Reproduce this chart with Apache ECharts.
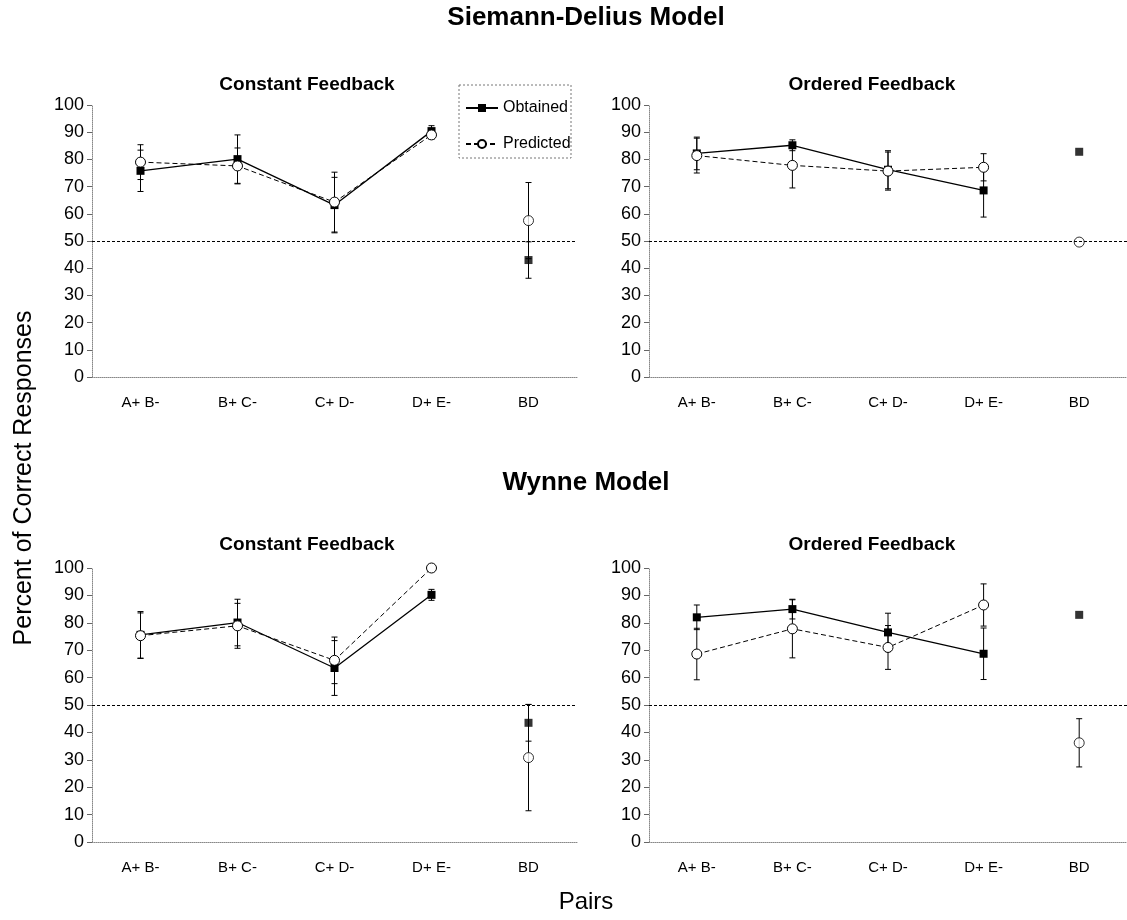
<!DOCTYPE html>
<html>
<head>
<meta charset="utf-8">
<script src="https://cdn.jsdelivr.net/npm/echarts@6/dist/echarts.min.js"></script>
<style>
  html, body { margin: 0; padding: 0; background: #fff; }
  #chart { width: 1127px; height: 920px; }
</style>
</head>
<body>
<div id="chart"></div>
<script>
// pairs on the x axis
const categories = ['A+ B-', 'B+ C-', 'C+ D-', 'D+ E-', 'BD'];

// Siemann-Delius model, constant feedback
const sdConstObtained = [75.8, 80.1, 63.2, 90.4, 43.0];
const sdConstObtainedErr = [7.6, 8.9, 10.2, 2.0, 6.7];
const sdConstPredicted = [79.0, 77.6, 64.3, 89.0, 57.5];
const sdConstPredictedErr = [6.4, 6.6, 11.0, 1.5, 14.0];

// Siemann-Delius model, ordered feedback
const sdOrdObtained = [82.2, 85.2, 76.2, 68.6, 82.8];
const sdOrdObtainedErr = [6.0, 2.0, 7.0, 9.8, null];
const sdOrdPredicted = [81.4, 77.8, 75.7, 77.1, 49.6];
const sdOrdPredictedErr = [6.4, 8.3, 7.0, 5.0, null];

// Wynne model, constant feedback
const wConstObtained = [75.6, 80.1, 63.5, 90.2, 43.5];
const wConstObtainedErr = [8.5, 8.5, 10.0, 2.0, 6.7];
const wConstPredicted = [75.3, 78.9, 66.3, 100.0, 30.8];
const wConstPredictedErr = [8.3, 8.2, 8.5, null, 19.4];

// Wynne model, ordered feedback
const wOrdObtained = [82.0, 85.0, 76.5, 68.7, 82.9];
const wOrdObtainedErr = [4.5, 3.6, 7.0, 9.4, null];
const wOrdPredicted = [68.6, 77.8, 71.0, 86.5, 36.2];
const wOrdPredictedErr = [9.4, 10.6, 8.0, 7.7, 8.8];

const chanceLevel = 50;

const FONT = '"Liberation Sans", Arial, sans-serif';

const panels = [
  { obt: sdConstObtained, obtErr: sdConstObtainedErr, pred: sdConstPredicted, predErr: sdConstPredictedErr,
    grid: { left: 92, top: 105, width: 485, height: 272 } },
  { obt: sdOrdObtained, obtErr: sdOrdObtainedErr, pred: sdOrdPredicted, predErr: sdOrdPredictedErr,
    grid: { left: 649, top: 105, width: 485, height: 272 } },
  { obt: wConstObtained, obtErr: wConstObtainedErr, pred: wConstPredicted, predErr: wConstPredictedErr,
    grid: { left: 92, top: 568, width: 485, height: 274 } },
  { obt: wOrdObtained, obtErr: wOrdObtainedErr, pred: wOrdPredicted, predErr: wOrdPredictedErr,
    grid: { left: 649, top: 568, width: 485, height: 274 } }
];

function errData(vals, errs) {
  const out = [];
  vals.forEach((v, i) => {
    if (errs[i] != null) out.push([i, v - errs[i], v + errs[i]]);
  });
  return out;
}

function renderErr(params, api) {
  const lo = api.coord([api.value(0), api.value(1)]);
  const hi = api.coord([api.value(0), api.value(2)]);
  const cap = 3;
  const st = { stroke: '#000', lineWidth: 1 };
  return {
    type: 'group',
    children: [
      { type: 'line', shape: { x1: lo[0], y1: lo[1], x2: hi[0], y2: hi[1] }, style: st },
      { type: 'line', shape: { x1: lo[0] - cap, y1: lo[1], x2: lo[0] + cap, y2: lo[1] }, style: st },
      { type: 'line', shape: { x1: hi[0] - cap, y1: hi[1], x2: hi[0] + cap, y2: hi[1] }, style: st }
    ]
  };
}

const grids = [], xAxes = [], yAxes = [], series = [];

panels.forEach((p, k) => {
  grids.push(p.grid);
  xAxes.push({
    type: 'category', gridIndex: k, data: categories, boundaryGap: true,
    axisLine: { lineStyle: { color: '#888', type: 'dotted', width: 1 } },
    axisTick: { length: 4, lineStyle: { color: '#666' } },
    axisLabel: { color: '#000', fontFamily: FONT, fontSize: 15, margin: 18 }
  });
  yAxes.push({
    type: 'value', gridIndex: k, min: 0, max: 100, interval: 10,
    axisLine: { show: true, lineStyle: { color: '#888', type: 'dotted', width: 1 } },
    axisTick: { show: true, length: 5, lineStyle: { color: '#666' } },
    splitLine: { show: false },
    axisLabel: { color: '#000', fontFamily: FONT, fontSize: 18, margin: 8 }
  });

  series.push({
    type: 'custom', xAxisIndex: k, yAxisIndex: k, renderItem: renderErr,
    encode: { x: 0, y: [1, 2] }, data: errData(p.obt, p.obtErr), z: 1, silent: true
  });
  series.push({
    type: 'custom', xAxisIndex: k, yAxisIndex: k, renderItem: renderErr,
    encode: { x: 0, y: [1, 2] }, data: errData(p.pred, p.predErr), z: 1, silent: true
  });
  series.push({
    name: 'Obtained', type: 'line', xAxisIndex: k, yAxisIndex: k,
    data: p.obt.slice(0, 4), symbol: 'rect', symbolSize: 8,
    lineStyle: { color: '#000', width: 1.3 }, itemStyle: { color: '#000' }, z: 3,
    markLine: {
      silent: true, symbol: 'none', label: { show: false },
      lineStyle: { color: '#000', type: [3, 2], width: 1.2 },
      data: [{ yAxis: chanceLevel }]
    }
  });
  series.push({
    name: 'Predicted', type: 'line', xAxisIndex: k, yAxisIndex: k,
    data: p.pred.slice(0, 4), symbol: 'circle', symbolSize: 10,
    lineStyle: { color: '#000', width: 1, type: [5, 3] },
    itemStyle: { color: '#fff', borderColor: '#000', borderWidth: 1 }, z: 4
  });
  series.push({
    name: 'Obtained BD', type: 'scatter', xAxisIndex: k, yAxisIndex: k,
    data: [[4, p.obt[4]]], symbol: 'rect', symbolSize: 8,
    itemStyle: { color: '#000' }, z: 3
  });
  series.push({
    name: 'Predicted BD', type: 'scatter', xAxisIndex: k, yAxisIndex: k,
    data: [[4, p.pred[4]]], symbol: 'circle', symbolSize: 10,
    itemStyle: { color: '#fff', borderColor: '#000', borderWidth: 1 }, z: 4
  });
});

function label(x, y, text, size, weight, rot) {
  return {
    type: 'text', x: x, y: y, rotation: rot || 0,
    style: { text: text, fill: '#000', font: (weight || 'normal') + ' ' + size + 'px ' + FONT,
             textAlign: 'center', textVerticalAlign: 'middle' }
  };
}

const chart = echarts.init(document.getElementById('chart'));
chart.setOption({
  animation: false,
  backgroundColor: '#fff',
  grid: grids,
  xAxis: xAxes,
  yAxis: yAxes,
  legend: {
    data: ['Obtained', 'Predicted'],
    orient: 'vertical', left: 460, top: 95, itemGap: 20,
    itemWidth: 32, itemHeight: 10, selectedMode: false,
    textStyle: { fontFamily: FONT, fontSize: 16, color: '#000' }
  },
  graphic: [
    { type: 'rect', shape: { x: 459, y: 85, width: 112, height: 73 },
      style: { fill: 'none', stroke: '#777', lineWidth: 1, lineDash: [2, 2] } },
    label(586, 18, 'Siemann-Delius Model', 26, 'bold'),
    label(307, 85, 'Constant Feedback', 19, 'bold'),
    label(872, 85, 'Ordered Feedback', 19, 'bold'),
    label(586, 483, 'Wynne Model', 26, 'bold'),
    label(307, 545, 'Constant Feedback', 19, 'bold'),
    label(872, 545, 'Ordered Feedback', 19, 'bold'),
    label(586, 902, 'Pairs', 24),
    label(24, 478, 'Percent of Correct Responses', 25, 'normal', Math.PI / 2)
  ],
  series: series
});
</script>
</body>
</html>
